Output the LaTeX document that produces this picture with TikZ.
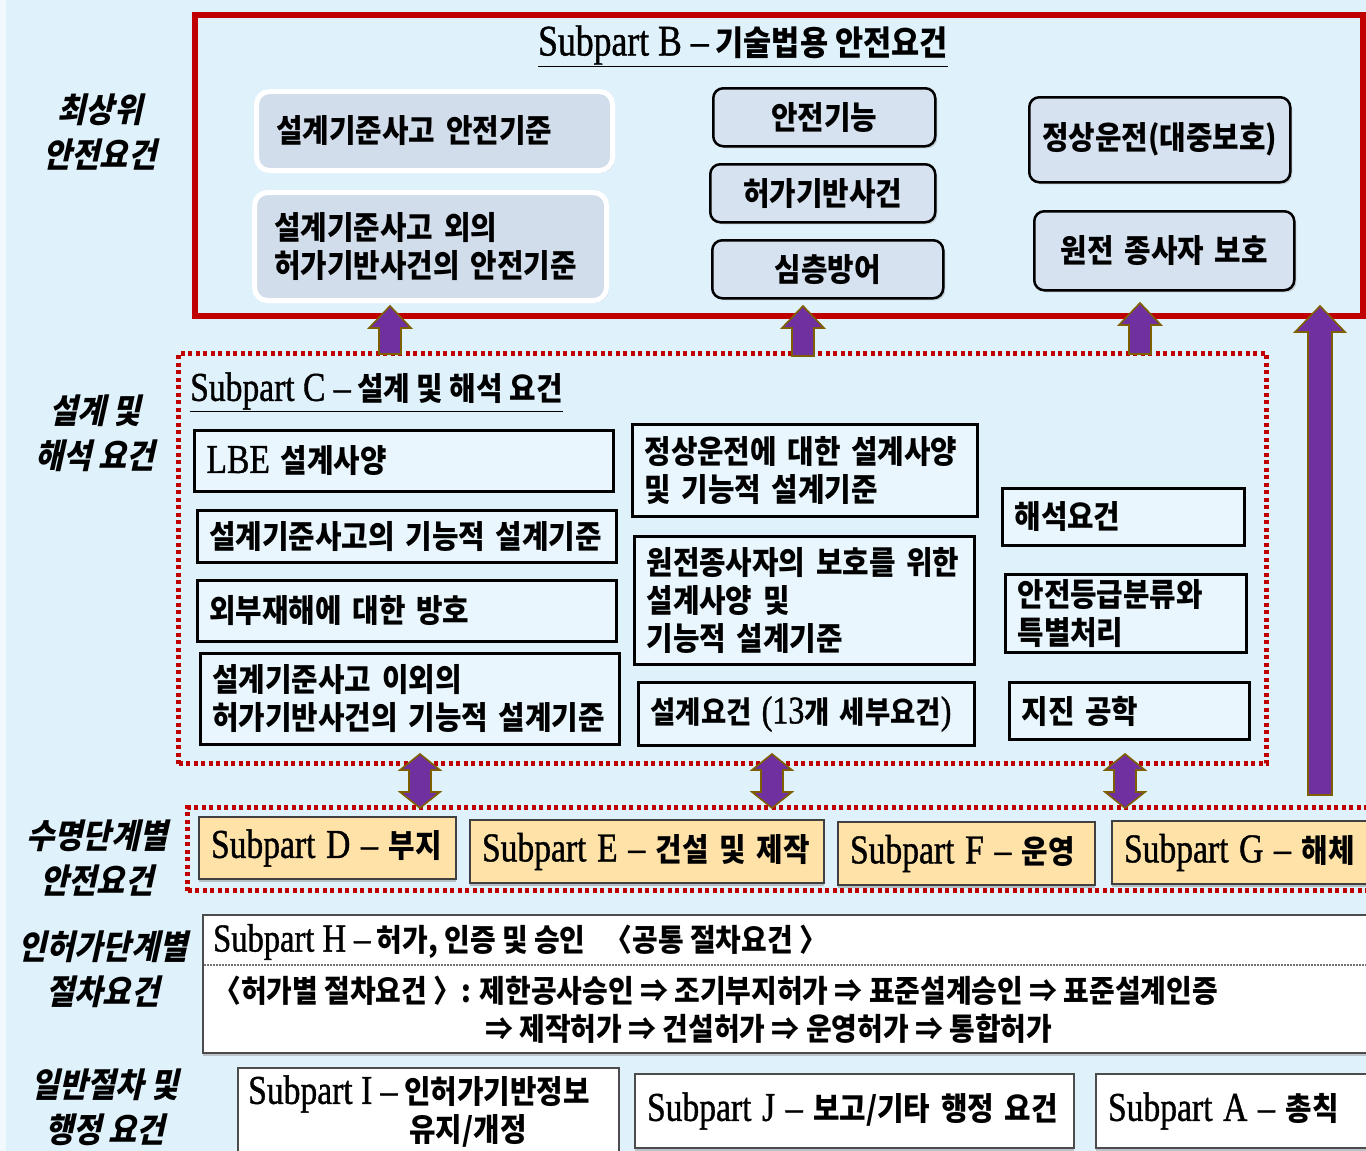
\documentclass[tikz,border=0pt]{standalone}
\usepackage{fontspec}
\usetikzlibrary{calc,shadows}
\newfontfamily\kr{Noto Sans CJK KR}[FakeStretch=0.9]
\newfontfamily\kri{Noto Sans CJK KR}[FakeStretch=0.9,FakeSlant=0.22]
\newfontfamily\lat{Liberation Serif}[Scale=1.28,FakeStretch=0.82,FakeBold=1]
\newcommand\la[1]{{\lat\mdseries #1}}
\definecolor{bg}{HTML}{DFF1FB}
\definecolor{redline}{HTML}{C00000}
\definecolor{bfill}{HTML}{D2DDEC}
\definecolor{bfilltwo}{HTML}{D6E2F0}
\definecolor{cfill}{HTML}{E9F6FE}
\definecolor{ofill}{HTML}{FFE2A8}
\definecolor{apurple}{HTML}{7030A0}
\definecolor{abrown}{HTML}{7F6000}
\tikzset{
  every node/.style={font=\kr\bfseries\fontsize{32}{38}\selectfont, text=black},
  whitebox/.style={fill=bfill, draw=white, line width=5pt, rounded corners=13pt, align=left,
     drop shadow={shadow xshift=2pt, shadow yshift=-2pt, opacity=0.35}},
  roundbox/.style={fill=bfilltwo, draw=black, line width=2.5pt, rounded corners=10pt, align=center,
     drop shadow={shadow xshift=2pt, shadow yshift=-2pt, opacity=0.3}},
  cbox/.style={fill=cfill, draw=black, line width=3pt, align=left},
  obox/.style={fill=ofill, draw=black!75, line width=2pt, align=left,
     drop shadow={shadow xshift=0pt, shadow yshift=-3pt, opacity=0.45}},
  wbox/.style={fill=white, draw=black!70, line width=2pt, align=left,
     drop shadow={shadow xshift=0pt, shadow yshift=-3pt, opacity=0.4}},
  redbox/.style={draw=redline, line width=6pt},
  dotbox/.style={draw=redline, line width=5pt, dash pattern=on 4pt off 3.5pt},
  sidelabel/.style={font=\kri\bfseries\fontsize{34}{45}\selectfont, align=center},
  blockarrow/.style={fill=apurple, draw=abrown, line width=1.6pt, line join=miter},
}
% box from pixel corners: [style]{name}{x1}{y1}{x2}{y2}{text}
\newcommand\bx[7][]{%
  \pgfmathsetmacro\bxw{#5-#3}\pgfmathsetmacro\bxh{#6-#4}\pgfmathsetmacro\bxt{#5-#3-24}%
  \node[#1, anchor=north west, inner xsep=12pt, inner ysep=0pt, text width=\bxt pt,
        minimum width=\bxw pt, minimum height=\bxh pt] (#2) at (#3,#4) {#7};}
% block arrow pointing up: {bottom}{top}{half shaft}{half head}{head length}
\newcommand\blkup[5]{%
  \filldraw[blockarrow] let \p1=(#1), \p2=(#2) in
   (\x1-#3pt,\y1) -- (\x1-#3pt,\y2-#5pt) -- (\x1-#4pt,\y2-#5pt) -- (\x1,\y2)
   -- (\x1+#4pt,\y2-#5pt) -- (\x1+#3pt,\y2-#5pt) -- (\x1+#3pt,\y1) -- cycle;}
% double block arrow: {bottom tip}{top tip}{half shaft}{half head}{head length}
\newcommand\blkdbl[5]{%
  \filldraw[blockarrow] let \p1=(#1), \p2=(#2) in
   (\x1-#3pt,\y1+#5pt) -- (\x1-#3pt,\y2-#5pt) -- (\x1-#4pt,\y2-#5pt) -- (\x1,\y2)
   -- (\x1+#4pt,\y2-#5pt) -- (\x1+#3pt,\y2-#5pt) -- (\x1+#3pt,\y1+#5pt)
   -- (\x1+#4pt,\y1+#5pt) -- (\x1,\y1) -- (\x1-#4pt,\y1+#5pt) -- cycle;}
\begin{document}
\begin{tikzpicture}[x=1pt,y=-1pt]
\useasboundingbox (0,0) rectangle (1366,1151);
\clip (0,0) rectangle (1366,1151);
\fill[bg] (0,0) rectangle (1366,1151);
\fill[white!60!bg] (0,0) rectangle (6,1151);

% ---- side labels
\node[sidelabel] (lab1) at (100,132) {최상위\\안전요건};
\node[sidelabel] (lab2) at (95,433) {설계 및\\해석 요건};
\node[sidelabel] (lab3) at (97,858) {수명단계별\\안전요건};
\node[sidelabel] (lab4) at (103,969) {인허가단계별\\절차요건};
\node[sidelabel] (lab5) at (105,1107) {일반절차 및\\행정 요건};

% ---- Subpart B
\bx[redbox]{Bbox}{192}{12}{1360}{313}{}
\node[font=\kr\bfseries\fontsize{34}{40}\selectfont] (tB) at (743,46) {\underline{\la{Subpart B –} 기술법용 안전요건}};
\bx[whitebox]{b1}{254}{89}{610}{168}{\hspace*{8pt}설계기준사고 안전기준}
\bx[whitebox]{b2}{252}{190}{604}{298}{\hspace*{8pt}설계기준사고 외의\\\hspace*{8pt}허가기반사건의 안전기준}
\bx[roundbox]{b3}{712}{87}{934}{145}{안전기능}
\bx[roundbox]{b4}{709}{163}{934}{221}{허가기반사건}
\bx[roundbox]{b5}{711}{239}{942}{297}{심층방어}
\bx[roundbox]{b6}{1028}{96}{1289}{181}{\mbox{정상운전(대중보호)}}
\bx[roundbox]{b7}{1033}{210}{1293}{289}{원전 종사자 보호}

% ---- Subpart C
\bx[dotbox]{Cbox}{176}{351}{1264}{761}{}
\node[anchor=west, inner sep=0pt] (tC) at (190,392) {\underline{\la{Subpart C –} 설계 및 해석 요건}};
\bx[cbox]{c1}{193}{429}{612}{490}{\la{LBE} 설계사양}
\bx[cbox]{c2}{196}{509}{615}{561}{\mbox{설계기준사고의 기능적 설계기준}}
\bx[cbox]{c3}{196}{579}{615}{640}{외부재해에 대한 방호}
\bx[cbox]{c4}{199}{652}{618}{743}{설계기준사고 이외의\\\mbox{허가기반사건의 기능적 설계기준}}
\bx[cbox]{c5}{631}{423}{976}{515}{정상운전에 대한 설계사양\\및 기능적 설계기준}
\bx[cbox]{c6}{633}{535}{973}{663}{원전종사자의 보호를 위한\\설계사양 및\\기능적 설계기준}
\bx[cbox, font=\kr\bfseries\fontsize{30.5}{38}\selectfont]{c7}{637}{681}{973}{744}{\mbox{설계요건 \la{(13}개 세부요건\la{)}}}
\bx[cbox]{c8}{1001}{487}{1243}{544}{해석요건}
\bx[cbox]{c9}{1004}{573}{1245}{651}{안전등급분류와\\특별처리}
\bx[cbox]{c10}{1008}{681}{1248}{738}{지진 공학}

% ---- Subparts D-G
\bx[dotbox]{DGbox}{185}{805}{1390}{888}{}
\bx[obox]{d}{198}{816}{455}{878}{\mbox{\la{Subpart D –} 부지}}
\bx[obox]{e}{469}{819}{823}{882}{\mbox{\la{Subpart E –} 건설 및 제작}}
\bx[obox]{f}{837}{821}{1094}{884}{\mbox{\la{Subpart F –} 운영}}
\bx[obox]{g}{1111}{820}{1390}{883}{\mbox{\la{Subpart G –} 해체}}

% ---- Subpart H
\bx[wbox]{Hbox}{202}{914}{1390}{1052}{}
\draw[black!55, line width=1.5pt, dash pattern=on 1.5pt off 1.5pt]
  ($(Hbox.north west)+(2,51)$) -- ($(Hbox.north east)+(0,51)$);
\begin{scope}[every node/.style={font=\kr\bfseries\fontsize{31}{36}\selectfont, anchor=west, inner sep=0pt}]
\node (h1) at (213,942) {\la{Subpart H –} 허가, 인증 및 승인 \ \ 〈공통 절차요건 〉};
\node (h2) at (213,991) {〈허가별 절차요건 〉: 제한공사승인 ⇒ 조기부지허가 ⇒ 표준설계승인 ⇒ 표준설계인증};
\node (h3) at (485,1029) {⇒ 제작허가 ⇒ 건설허가 ⇒ 운영허가 ⇒ 통합허가};
\end{scope}

% ---- Subparts I, J, A
\bx[wbox]{ibox}{237}{1067}{618}{1195}{}
\node[anchor=west, inner sep=0pt] (itext1) at (248,1094) {\la{Subpart I –} 인허가기반정보};
\node[inner sep=0pt] (itext2) at (468,1131) {유지/개정};
\bx[wbox]{jbox}{634}{1073}{1073}{1147}{\mbox{\la{Subpart J –} 보고/기타 행정 요건}}
\bx[wbox]{abox}{1095}{1073}{1390}{1147}{\mbox{\la{Subpart A –} 총칙}}

% ---- arrows
\coordinate (ax1) at (390,0);
\coordinate (ax2) at (803,0);
\coordinate (ax3) at (1140,0);
\coordinate (ax4) at (1320,0);
\coordinate (dx1) at (420,0);
\coordinate (dx2) at (772,0);
\coordinate (dx3) at (1125,0);
\blkup{$(ax1 |- Cbox.north)+(0,3)$}{$(ax1 |- Bbox.south)+(0,-13)$}{11}{21}{22}
\blkup{$(ax2 |- Cbox.north)+(0,5)$}{$(ax2 |- Bbox.south)+(0,-13)$}{11}{21}{22}
\blkup{$(ax3 |- Cbox.north)+(0,3)$}{$(ax3 |- Bbox.south)+(0,-16)$}{11}{21}{22}
\blkup{$(ax4 |- DGbox.north)+(0,-10)$}{$(ax4 |- Bbox.south)+(0,-13)$}{12}{25}{26}
\blkdbl{$(dx1 |- DGbox.north)+(0,3)$}{$(dx1 |- Cbox.south)+(0,-12)$}{11}{20}{16}
\blkdbl{$(dx2 |- DGbox.north)+(0,3)$}{$(dx2 |- Cbox.south)+(0,-12)$}{11}{20}{16}
\blkdbl{$(dx3 |- DGbox.north)+(0,3)$}{$(dx3 |- Cbox.south)+(0,-12)$}{11}{20}{16}
\end{tikzpicture}
\end{document}
